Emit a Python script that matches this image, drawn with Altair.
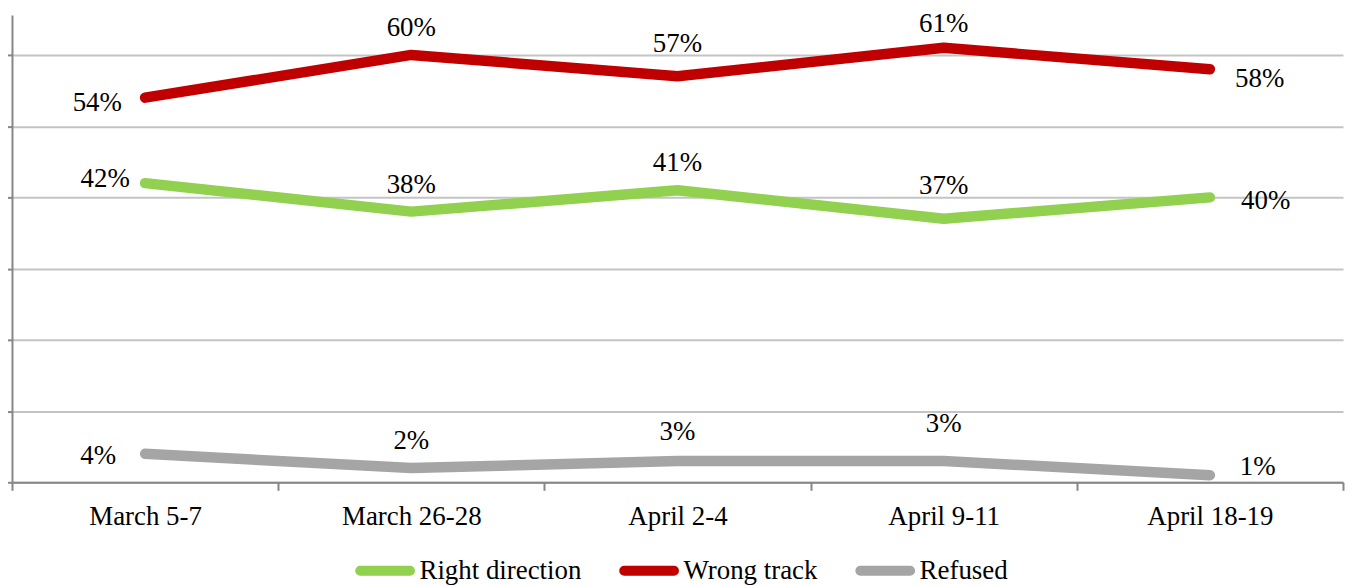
import altair as alt
import pandas as pd

# ---- data ----
dates = ["March 5-7", "March 26-28", "April 2-4", "April 9-11", "April 18-19"]
series_names = ["Right direction", "Wrong track", "Refused"]
right_direction = [42, 38, 41, 37, 40]
wrong_track = [54, 60, 57, 61, 58]
refused = [4, 2, 3, 3, 1]
colors = ["#92D050", "#C00000", "#A5A5A5"]
y_ticks = [0, 0.1, 0.2, 0.3, 0.4, 0.5, 0.6]

rows = []
for name, vals in zip(series_names, [right_direction, wrong_track, refused]):
    for i, (d, v) in enumerate(zip(dates, vals)):
        rows.append({"date": d, "series": name, "value": v / 100.0,
                     "label": f"{v}%", "idx": i})
df = pd.DataFrame(rows)

FONT = "Liberation Serif"
FS = 27
AXIS_GRAY = "#868686"

# label offsets (dx, dy) relative to each point, per series and point index
label_offsets = {
    "Right direction": [(-40, -4), (0, -27), (0, -27), (0, -33), (56, 4)],
    "Wrong track": [(-48, 5), (0, -27), (0, -32), (0, -24), (50, 10)],
    "Refused": [(-47, 2), (0, -27), (0, -29), (0, -37), (48, -8)],
}

x_enc = alt.X(
    "date:N", sort=dates, bandPosition=0.5,
    scale=alt.Scale(type="band", domain=dates, paddingInner=0, paddingOuter=0),
    axis=alt.Axis(title=None, labelFont=FONT, labelFontSize=FS, labelColor="#000000",
                  labelAngle=0, tickBand="extent", tickSize=8, tickColor=AXIS_GRAY,
                  tickWidth=2, domainColor=AXIS_GRAY, domainWidth=2, labelPadding=13,
                  grid=False),
)
y_enc = alt.Y(
    "value:Q",
    scale=alt.Scale(domain=[0, 0.656], nice=False, zero=True),
    axis=alt.Axis(values=y_ticks, labels=False, title=None, tickSize=7,
                  tickColor=AXIS_GRAY, tickWidth=2, domainColor=AXIS_GRAY,
                  domainWidth=2, grid=True, gridColor="#C4C4C4", gridWidth=2),
)

capsule = ("M-0.833,-0.0833 L0.833,-0.0833 A0.0833,0.0833 0 0 1 0.833,0.0833 "
           "L-0.833,0.0833 A0.0833,0.0833 0 0 1 -0.833,-0.0833 Z")

lines = alt.Chart(df).mark_line(strokeWidth=10.5, strokeCap="round", strokeJoin="round").encode(
    x=x_enc,
    y=y_enc,
    color=alt.Color(
        "series:N",
        scale=alt.Scale(domain=series_names, range=colors),
        sort=series_names,
        legend=alt.Legend(
            title=None, orient="none", legendX=342, legendY=525, direction="horizontal",
            symbolType=capsule, symbolSize=3600, symbolStrokeWidth=5,
            labelFont=FONT, labelFontSize=FS, labelColor="#000000",
            labelOffset=2, columnPadding=30, labelLimit=0,
        ),
    ),
    detail="series:N",
)

texts = []
for name in series_names:
    for i in range(len(dates)):
        dx, dy = label_offsets[name][i]
        t = alt.Chart(df).transform_filter(
            (alt.datum.series == name) & (alt.datum.idx == i)
        ).mark_text(font=FONT, fontSize=FS, color="#000000", align="center",
                    baseline="middle", dx=dx, dy=dy).encode(
            x=alt.X("date:N", sort=dates, bandPosition=0.5),
            y=alt.Y("value:Q"),
            text="label:N",
        )
        texts.append(t)

chart = alt.layer(lines, *texts).properties(
    width=1336, height=469,
    padding={"left": 4, "top": 6, "right": 2, "bottom": 103},
    autosize=alt.AutoSizeParams(type="none"),
).configure_view(stroke=None)

chart.save("out.html", embed_options={"renderer": "svg", "actions": False})
